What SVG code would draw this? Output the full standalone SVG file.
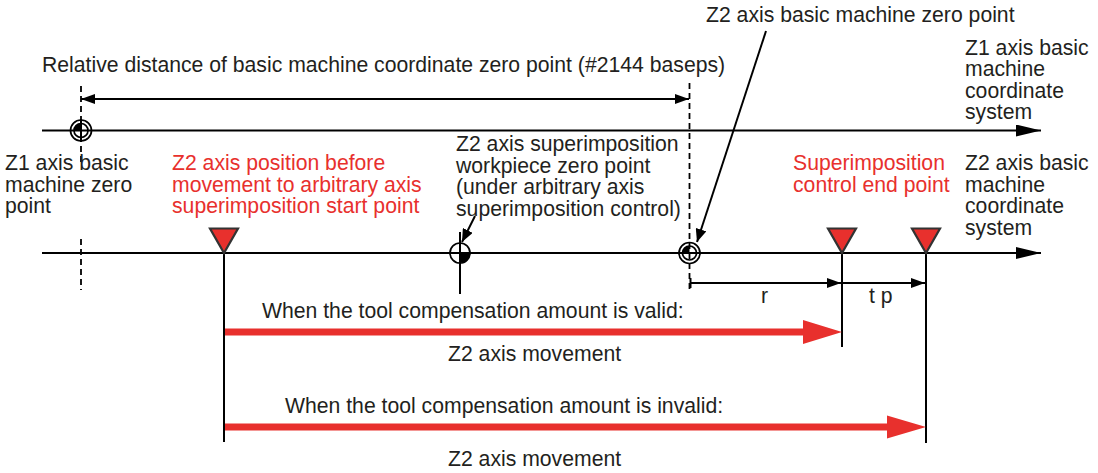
<svg xmlns="http://www.w3.org/2000/svg" width="1098" height="473" viewBox="0 0 1098 473">
<defs>
<style>
text{font-family:"Liberation Sans",Arial,Helvetica,sans-serif;font-size:21.2px;fill:#231f20}
text.red{fill:#e8302d}
.ln{stroke:#000;stroke-width:2;fill:none}
.dash{stroke:#000;stroke-width:1.8;stroke-dasharray:6 4;fill:none}
.tri{fill:#e8302d;stroke:#333;stroke-width:2.2;stroke-linejoin:miter}
.rarrow{fill:#e8302d}
.sym{fill:none;stroke:#000;stroke-width:1.7}
.q{fill:#000}
</style>
<marker id="ax" markerUnits="userSpaceOnUse" markerWidth="26" markerHeight="12" refX="25" refY="6" orient="auto"><path d="M0,0 L25,6 L0,12 z" fill="#000"/></marker>
<marker id="dm" markerUnits="userSpaceOnUse" markerWidth="15" markerHeight="10" refX="14" refY="5" orient="auto-start-reverse"><path d="M0,0 L14,5 L0,10 z" fill="#000"/></marker>
<marker id="ld" markerUnits="userSpaceOnUse" markerWidth="14" markerHeight="11" refX="13" refY="5.5" orient="auto"><path d="M0,0 L13,5.5 L0,11 z" fill="#000"/></marker>
</defs>
<rect width="1098" height="473" fill="#fff"/>

<g id="connectors">
<line class="ln" x1="42" y1="130.5" x2="1041" y2="130.5" marker-end="url(#ax)"/>
<line class="ln" x1="42" y1="253" x2="1041" y2="253" marker-end="url(#ax)"/>
<line class="dash" x1="81" y1="86" x2="81" y2="162"/>
<line class="dash" x1="81" y1="239" x2="81" y2="290"/>
<line class="dash" x1="689.5" y1="83" x2="689.5" y2="290"/>
<line class="ln" x1="81" y1="99" x2="689" y2="99" stroke-width="1.8" marker-start="url(#dm)" marker-end="url(#dm)"/>
<line class="ln" x1="766" y1="31" x2="697" y2="242" stroke-width="1.8" marker-end="url(#ld)"/>
<line class="ln" x1="475" y1="216" x2="462" y2="242" stroke-width="1.8" marker-end="url(#ld)"/>
<line class="ln" x1="460" y1="232" x2="460" y2="294"/>
<line class="ln" x1="224" y1="253" x2="224" y2="442"/>
<line class="ln" x1="842" y1="253" x2="842" y2="347"/>
<line class="ln" x1="926" y1="253" x2="926" y2="443"/>
<line class="ln" x1="690.5" y1="278" x2="690.5" y2="288" stroke-width="1.6"/>
<line class="ln" x1="690" y1="283" x2="841" y2="283" stroke-width="1.8" marker-end="url(#dm)"/>
<line class="ln" x1="842" y1="283" x2="925" y2="283" stroke-width="1.8" marker-end="url(#dm)"/>
<polygon class="rarrow" points="225,328.5 803,328.5 803,320 842,332 803,344 803,335.5 225,335.5"/>
<polygon class="rarrow" points="225,423.5 887,423.5 887,415.5 926,427 887,438.5 887,430.5 225,430.5"/>
</g>

<g id="z1-zero">
<circle class="sym" cx="81" cy="130.5" r="10.5"/>
<circle class="sym" cx="81" cy="130.5" r="7"/>
<path class="q" d="M81,130.5 L74,130.5 A7,7 0 0 1 81,123.5 Z"/>
<line class="ln" x1="81" y1="119" x2="81" y2="142" stroke-width="1.6"/>
</g>
<g id="z2-zero">
<circle class="sym" cx="689.5" cy="253" r="10.5"/>
<circle class="sym" cx="689.5" cy="253" r="7"/>
<path class="q" d="M689.5,253 L682.5,253 A7,7 0 0 1 689.5,246 Z"/>
</g>
<g id="workpiece-zero">
<circle class="sym" cx="460" cy="253" r="10"/>
<path class="q" d="M460,253 L470,253 A10,10 0 0 1 460,263 Z"/>
</g>
<g id="start-point"><polygon class="tri" points="210,228.5 238,228.5 224,253"/></g>
<g id="end-point-valid"><polygon class="tri" points="828,228.5 856,228.5 842,253"/></g>
<g id="end-point-invalid"><polygon class="tri" points="912,228.5 940,228.5 926,253"/></g>

<g id="labels">
<text x="706" y="22">Z2 axis basic machine zero point</text>
<text x="42" y="72">Relative distance of basic machine coordinate zero point (#2144 baseps)</text>
<text x="965" y="54.5">Z1 axis basic</text>
<text x="965" y="76">machine</text>
<text x="965" y="97.5">coordinate</text>
<text x="965" y="119">system</text>
<text x="5" y="170">Z1 axis basic</text>
<text x="5" y="191.5">machine zero</text>
<text x="5" y="213">point</text>
<text class="red" x="172" y="170">Z2 axis position before</text>
<text class="red" x="172" y="191.5">movement to arbitrary axis</text>
<text class="red" x="172" y="213">superimposition start point</text>
<text x="456" y="151">Z2 axis superimposition</text>
<text x="456" y="172.5">workpiece zero point</text>
<text x="456" y="194">(under arbitrary axis</text>
<text x="456" y="215.5">superimposition control)</text>
<text class="red" x="793" y="170">Superimposition</text>
<text class="red" x="793" y="191.5">control end point</text>
<text x="965" y="170">Z2 axis basic</text>
<text x="965" y="191.5">machine</text>
<text x="965" y="213">coordinate</text>
<text x="965" y="234.5">system</text>
<text x="761" y="303">r</text>
<text x="869" y="303">t p</text>
<text x="262" y="318">When the tool compensation amount is valid:</text>
<text x="448" y="361">Z2 axis movement</text>
<text x="285" y="413">When the tool compensation amount is invalid:</text>
<text x="448" y="466">Z2 axis movement</text>
</g>
</svg>
